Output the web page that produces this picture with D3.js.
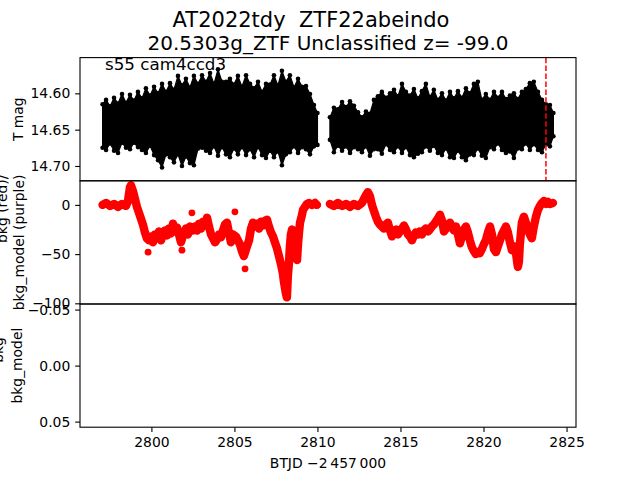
<!DOCTYPE html>
<html><head><meta charset="utf-8">
<script src="https://cdn.jsdelivr.net/npm/d3@7"></script>
<style>body{margin:0;background:#fff}svg{display:block}text{font-family:"DejaVu Sans",sans-serif;white-space:pre}</style>
</head><body><svg id="c" width="640" height="480"></svg>
<script>
// ---------- data ----------
const titleLine1 = "AT2022tdy  ZTF22abeindo";
const titleLine2 = "20.5303g_ZTF Unclassified z= -99.0";
const sectorLabel = "s55 cam4ccd3";
const xLabel = "BTJD \u22122\u2009457\u2009000";
const xTicks = [2800, 2805, 2810, 2815, 2820, 2825];
const magTicks = [14.60, 14.65, 14.70];
const bkgTicks = [0, -50, -100];
const resTicks = [-0.05, 0.00, 0.05];
const peakTime = 2823.76;

// light curve envelope (brightest / faintest mag per time sample), two orbits
const lcTime1 = [2797.06,2797.27,2797.51,2797.75,2797.99,2798.23,2798.47,2798.71,2798.95,2799.19,2799.43,2799.67,2799.92,2800.16,2800.40,2800.64,2800.88,2801.12,2801.36,2801.60,2801.84,2802.08,2802.32,2802.56,2802.81,2803.05,2803.29,2803.53,2803.77,2804.01,2804.25,2804.49,2804.73,2804.97,2805.21,2805.45,2805.70,2805.94,2806.18,2806.42,2806.66,2806.90,2807.14,2807.38,2807.62,2807.86,2808.10,2808.34,2808.59,2808.83,2809.07,2809.31,2809.55,2809.79,2810.00];
const lcBright1 = [14.615,14.609,14.618,14.606,14.614,14.601,14.613,14.602,14.610,14.598,14.607,14.593,14.603,14.591,14.600,14.587,14.598,14.586,14.595,14.576,14.589,14.580,14.592,14.576,14.587,14.575,14.584,14.572,14.587,14.567,14.584,14.584,14.580,14.588,14.576,14.591,14.575,14.587,14.593,14.584,14.598,14.587,14.588,14.575,14.589,14.569,14.584,14.575,14.592,14.580,14.591,14.590,14.601,14.616,14.627];
const lcFaint1 = [14.675,14.678,14.669,14.679,14.682,14.668,14.675,14.677,14.668,14.674,14.678,14.682,14.672,14.685,14.692,14.702,14.684,14.688,14.695,14.684,14.700,14.687,14.696,14.699,14.676,14.675,14.679,14.682,14.673,14.686,14.674,14.684,14.688,14.676,14.684,14.674,14.685,14.677,14.688,14.674,14.685,14.689,14.679,14.688,14.680,14.699,14.684,14.681,14.673,14.682,14.674,14.677,14.684,14.673,14.671];
const lcTime2 = [2810.75,2810.99,2811.23,2811.48,2811.72,2811.96,2812.20,2812.44,2812.68,2812.92,2813.16,2813.40,2813.64,2813.88,2814.12,2814.37,2814.61,2814.85,2815.09,2815.33,2815.57,2815.81,2816.05,2816.29,2816.53,2816.77,2817.01,2817.25,2817.50,2817.74,2817.98,2818.22,2818.46,2818.70,2818.94,2819.18,2819.42,2819.66,2819.90,2820.14,2820.39,2820.63,2820.87,2821.11,2821.35,2821.59,2821.83,2822.07,2822.31,2822.55,2822.79,2823.03,2823.28,2823.52,2823.76,2824.00,2824.21];
const lcBright2 = [14.633,14.620,14.622,14.612,14.619,14.611,14.617,14.626,14.633,14.625,14.628,14.609,14.604,14.598,14.606,14.600,14.595,14.604,14.587,14.598,14.603,14.594,14.607,14.597,14.587,14.605,14.595,14.609,14.600,14.610,14.598,14.607,14.597,14.606,14.593,14.600,14.587,14.584,14.609,14.601,14.609,14.598,14.606,14.598,14.608,14.603,14.600,14.608,14.598,14.594,14.586,14.584,14.598,14.609,14.615,14.616,14.627];
const lcFaint2 = [14.664,14.681,14.672,14.679,14.673,14.682,14.674,14.677,14.681,14.673,14.686,14.677,14.677,14.683,14.670,14.678,14.681,14.673,14.682,14.674,14.685,14.688,14.683,14.681,14.673,14.679,14.672,14.682,14.685,14.676,14.688,14.689,14.679,14.688,14.692,14.684,14.685,14.676,14.686,14.689,14.674,14.677,14.669,14.678,14.682,14.680,14.689,14.676,14.677,14.669,14.678,14.670,14.678,14.681,14.670,14.673,14.659];

// background flux (main track)
const bkgTime = [2797.06,2797.27,2797.51,2797.75,2797.99,2798.23,2798.47,2798.59,2798.71,2798.77,2798.89,2799.01,2799.13,2799.25,2799.37,2799.49,2799.61,2799.73,2799.86,2799.98,2800.10,2800.22,2800.34,2800.46,2800.58,2800.70,2800.82,2800.94,2801.06,2801.18,2801.30,2801.42,2801.54,2801.66,2801.78,2801.96,2802.08,2802.20,2802.32,2802.50,2802.62,2802.75,2802.87,2802.99,2803.11,2803.23,2803.35,2803.47,2803.59,2803.71,2803.83,2803.95,2804.07,2804.19,2804.31,2804.43,2804.55,2804.67,2804.79,2804.91,2805.09,2805.21,2805.33,2805.45,2805.57,2805.76,2805.88,2806.00,2806.12,2806.24,2806.36,2806.48,2806.60,2806.72,2806.84,2806.96,2807.08,2807.20,2807.32,2807.44,2807.56,2807.68,2807.80,2807.92,2807.98,2808.04,2808.10,2808.16,2808.22,2808.28,2808.34,2808.40,2808.47,2808.53,2808.65,2808.77,2808.83,2808.89,2808.95,2809.07,2809.13,2809.25,2809.37,2809.49,2809.67,2809.85,2809.97,
2810.75,2810.99,2811.23,2811.48,2811.72,2811.96,2812.20,2812.44,2812.68,2812.80,2812.92,2813.04,2813.16,2813.28,2813.40,2813.52,2813.64,2813.76,2813.88,2814.00,2814.12,2814.24,2814.37,2814.49,2814.61,2814.73,2814.85,2814.97,2815.09,2815.21,2815.33,2815.45,2815.57,2815.69,2815.81,2815.93,2816.05,2816.17,2816.29,2816.41,2816.53,2816.65,2816.77,2816.89,2817.01,2817.13,2817.25,2817.38,2817.50,2817.62,2817.74,2817.86,2817.98,2818.10,2818.22,2818.34,2818.46,2818.58,2818.70,2818.82,2818.94,2819.06,2819.18,2819.30,2819.42,2819.54,2819.66,2819.78,2819.90,2820.02,2820.14,2820.27,2820.39,2820.51,2820.63,2820.75,2820.87,2820.99,2821.11,2821.23,2821.35,2821.47,2821.59,2821.71,2821.83,2821.95,2822.01,2822.07,2822.13,2822.19,2822.31,2822.43,2822.55,2822.67,2822.79,2822.91,2823.03,2823.16,2823.28,2823.40,2823.52,2823.64,2823.76,2823.88,2824.00,2824.18];
const bkgFlux = [0,2,-1,1,-2,1,-1,4,18,20,14,6,-2,-8,-14,-20,-28,-34,-36,-32,-38,-30,-34,-27,-36,-30,-26,-31,-24,-29,-19,-27,-23,-30,-38,-28,-24,-30,-22,-26,-22,-26,-19,-24,-17,-21,-13,-22,-30,-34,-38,-35,-30,-33,-26,-20,-18,-28,-38,-30,-32,-36,-40,-47,-52,-42,-36,-24,-18,-22,-19,-24,-17,-21,-16,-15,-22,-28,-32,-38,-44,-52,-60,-70,-78,-84,-90,-94,-72,-60,-42,-30,-25,-34,-48,-56,-40,-28,-18,-10,-5,-2,1,2,0,2,0,
1,-1,2,-1,1,-2,1,-1,2,6,10,13,9,0,-6,-12,-17,-20,-22,-24,-20,-18,-26,-32,-28,-25,-30,-27,-24,-21,-25,-30,-32,-36,-31,-28,-30,-27,-30,-26,-24,-27,-25,-22,-20,-17,-14,-10,-16,-27,-24,-20,-18,-23,-26,-22,-30,-39,-32,-25,-22,-28,-36,-43,-47,-50,-48,-49,-45,-40,-36,-28,-22,-30,-45,-48,-42,-36,-30,-26,-22,-28,-38,-46,-42,-48,-56,-63,-58,-40,-18,-12,-18,-25,-30,-34,-22,-12,-5,-1,2,4,1,3,1,2];
// isolated background points
const bkgOutTime = [2799.80, 2801.84, 2802.44, 2805.03, 2805.64];
const bkgOutFlux = [-48, -46, -8, -7, -65];

// ---------- layout ----------
const svg = d3.select("#c");
const L = 80, R = 576, T = 57.6, B = 427.2;
const ph = (B - T) / 3;
const p1 = [T, T + ph], p2 = [T + ph, T + 2 * ph], p3 = [T + 2 * ph, B];
const fs = 13.9;

const x = d3.scaleLinear().domain([2795.70, 2825.57]).range([L, R]);
const yMag = d3.scaleLinear().domain([14.5508, 14.7204]).range(p1);
const yBkg = d3.scaleLinear().domain([24.5, -100.7]).range(p2);
const yRes = d3.scaleLinear().domain([-0.055, 0.055]).range(p3);

const defs = svg.append("defs");
[p1, p2, p3].forEach((p, i) => {
  defs.append("clipPath").attr("id", "clip" + i).append("rect")
    .attr("x", L).attr("y", p[0]).attr("width", R - L).attr("height", p[1] - p[0]);
});

// ---------- panel 1: light curve ----------
const g1 = svg.append("g").attr("clip-path", "url(#clip0)");
const area = d3.area().x(d => x(d[0])).y0(d => yMag(d[2])).y1(d => yMag(d[1]));
[[lcTime1, lcBright1, lcFaint1], [lcTime2, lcBright2, lcFaint2]].forEach(([tt, hi, lo]) => {
  const rows = tt.map((t, i) => [t, hi[i], lo[i]]);
  g1.append("path").datum(rows).attr("d", area).attr("fill", "#000")
    .attr("stroke", "#000").attr("stroke-width", 1.2).attr("stroke-linejoin", "round");
  g1.selectAll(null).data(rows).enter().append("circle")
    .attr("cx", d => x(d[0])).attr("cy", d => yMag(d[1])).attr("r", 2.3).attr("fill", "#000");
  g1.selectAll(null).data(rows).enter().append("circle")
    .attr("cx", d => x(d[0])).attr("cy", d => yMag(d[2])).attr("r", 2.3).attr("fill", "#000");
});
g1.append("line").attr("x1", x(peakTime)).attr("x2", x(peakTime))
  .attr("y1", p1[0]).attr("y2", p1[1])
  .attr("stroke", "#ff0000").attr("stroke-width", 1.5).attr("stroke-dasharray", "5.55,2.4");

svg.append("text").attr("x", 105).attr("y", 70).attr("font-size", 16.7).text(sectorLabel);

// ---------- panel 2: background ----------
const g2 = svg.append("g").attr("clip-path", "url(#clip1)");
const bkgRows = bkgTime.map((t, i) => [t, bkgFlux[i]]);
const segs = [];
bkgRows.forEach((d, i) => {
  if (i === 0 || d[0] - bkgRows[i - 1][0] > 0.5) segs.push([]);
  segs[segs.length - 1].push(d);
});
const bkgLine = d3.line().x(d => x(d[0])).y(d => yBkg(d[1]));
segs.forEach(s => {
  g2.append("path").datum(s).attr("d", bkgLine).attr("fill", "none")
    .attr("stroke", "#ff0000").attr("stroke-width", 8.4)
    .attr("stroke-linejoin", "round").attr("stroke-linecap", "round");
});
g2.selectAll(null).data(bkgRows.concat(bkgOutTime.map((t, i) => [t, bkgOutFlux[i]]))).enter().append("circle")
  .attr("cx", d => x(d[0])).attr("cy", d => yBkg(d[1])).attr("r", 3.4).attr("fill", "#ff0000");

// ---------- axes ----------
function styleAxis(g) {
  g.select(".domain").remove();
  g.selectAll(".tick line").attr("stroke", "#000").attr("stroke-width", 1.1);
  g.selectAll(".tick text").attr("font-size", fs).attr("font-family", "DejaVu Sans").attr("fill", "#000");
}
const tick = 4.86;
svg.append("g").attr("transform", `translate(${L},0)`)
  .call(d3.axisLeft(yMag).tickValues(magTicks).tickFormat(d3.format(".2f")).tickSize(tick).tickPadding(tick)).call(styleAxis);
svg.append("g").attr("transform", `translate(${L},0)`)
  .call(d3.axisLeft(yBkg).tickValues(bkgTicks).tickFormat(d3.format("d")).tickSize(tick).tickPadding(tick)).call(styleAxis);
svg.append("g").attr("transform", `translate(${L},0)`)
  .call(d3.axisLeft(yRes).tickValues(resTicks).tickFormat(d3.format(".2f")).tickSize(tick).tickPadding(tick)).call(styleAxis);
svg.append("g").attr("transform", `translate(0,${B})`)
  .call(d3.axisBottom(x).tickValues(xTicks).tickFormat(d3.format("d")).tickSize(tick).tickPadding(tick)).call(styleAxis);

// frames
[p1, p2, p3].forEach(p => {
  svg.append("rect").attr("x", L).attr("y", p[0]).attr("width", R - L).attr("height", p[1] - p[0])
    .attr("fill", "none").attr("stroke", "#000").attr("stroke-width", 1.1);
});

// ---------- labels ----------
function ylab(lines, cy, xs2, xs1) {
  const t2 = svg.append("text").attr("transform", `translate(${xs2},${cy}) rotate(-90)`)
    .attr("text-anchor", "middle").attr("font-size", fs).text(lines[lines.length - 1]);
  if (lines.length > 1) {
    const len = t2.node().getComputedTextLength();
    svg.append("text").attr("transform", `translate(${xs1},${cy - len / 2}) rotate(-90)`)
      .attr("text-anchor", "end").attr("font-size", fs).text(lines[0]);
  }
}
ylab(["T mag"], (p1[0] + p1[1]) / 2, 23, 0);
ylab(["bkg (red)/", "bkg_model (purple)"], (p2[0] + p2[1]) / 2, 24, 7.3);
ylab(["bkg -", "bkg_model"], (p3[0] + p3[1]) / 2, 21.5, 3);

svg.append("text").attr("x", (L + R) / 2).attr("y", 468).attr("text-anchor", "middle")
  .attr("font-size", fs).text(xLabel);

svg.append("text").attr("x", 311).attr("y", 27).attr("text-anchor", "middle").attr("font-size", 21).text(titleLine1);
svg.append("text").attr("x", (L + R) / 2).attr("y", 50).attr("text-anchor", "middle").attr("font-size", 20).text(titleLine2);
</script></body></html>
